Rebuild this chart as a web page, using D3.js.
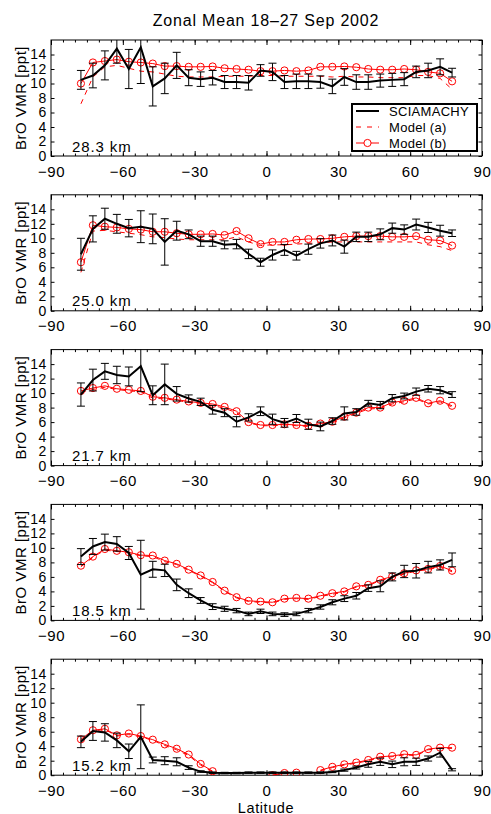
<!DOCTYPE html>
<html><head><meta charset="utf-8">
<script src="https://cdn.jsdelivr.net/npm/d3@7"></script>
<style>
html,body{margin:0;padding:0;background:#fff;}
svg{display:block;font-family:"Liberation Sans",Arial,Helvetica,sans-serif;}
</style></head>
<body><svg id="chart" width="491" height="814"></svg>
<script>
// ---------- DATA ----------
const latitudes = [-77.5,-72.5,-67.5,-62.5,-57.5,-52.5,-47.5,-42.5,-37.5,-32.5,-27.5,-22.5,-17.5,-12.5,-7.5,-2.5,
                   2.5,7.5,12.5,17.5,22.5,27.5,32.5,37.5,42.5,47.5,52.5,57.5,62.5,67.5,72.5,77.5];
const altitudeLabels = ["28.3 km","25.0 km","21.7 km","18.5 km","15.2 km"];
const xTickValues = [-90,-60,-30,0,30,60,90];
const yTickValues = [0,2,4,6,8,10,12,14];
const legendLabels = ["SCIAMACHY","Model (a)","Model (b)"];

// 28.3 km
const sciamachy283 = [10.5,11.1,12.5,14.8,12.0,15.0,9.6,10.7,12.5,10.8,10.6,10.8,10.2,10.2,10.1,11.8,11.6,10.2,10.3,10.3,10.2,9.6,10.9,10.2,10.2,10.4,10.5,10.6,11.6,11.8,12.3,11.5];
const error283     = [1.3,1.7,2.0,2.0,2.7,5.0,2.7,2.1,1.8,1.1,1.0,1.0,0.9,0.9,1.0,0.8,1.2,0.9,1.0,1.0,0.85,1.0,1.15,1.0,1.0,0.9,0.9,0.9,0.8,1.0,1.1,0.6];
const modelA283    = [7.2,10.9,12.3,12.5,12.1,11.7,11.6,11.3,11.0,10.9,10.9,10.9,11.0,11.0,11.0,11.1,11.1,11.0,11.0,11.0,11.0,10.9,11.0,10.9,10.9,10.8,10.8,10.8,11.1,11.1,10.7,9.2];
const modelB283    = [10.0,12.9,13.1,13.3,13.0,12.9,12.75,12.4,12.4,12.3,12.3,12.35,12.1,12.0,11.9,11.7,11.7,11.8,11.7,11.8,12.3,12.3,12.35,12.25,12.0,11.9,11.9,12.0,11.9,11.6,11.4,10.3];
// 25.0 km
const sciamachy250 = [7.8,11.3,12.7,12.0,11.4,11.6,11.3,9.5,11.05,10.55,9.6,9.6,9.1,9.2,7.85,6.7,7.7,8.4,7.6,8.5,9.3,9.7,8.85,10.2,10.2,10.55,11.4,11.2,11.9,11.5,11.05,10.7];
const error250     = [2.2,1.8,1.45,1.3,1.2,2.2,2.05,3.2,1.3,0.6,0.7,0.7,0.55,0.65,0.65,0.55,0.7,0.75,0.6,0.7,0.65,0.75,0.9,0.65,0.65,0.75,0.7,0.65,0.75,0.7,0.75,0.45];
const modelA250    = [5.3,11.0,11.1,10.9,10.7,10.5,10.2,10.1,9.9,9.8,9.8,9.8,9.8,10.2,9.5,9.0,9.1,9.1,9.2,9.3,9.4,9.5,9.5,9.5,9.5,9.5,9.5,9.5,9.5,9.1,8.85,8.3];
const modelB250    = [6.7,11.8,11.6,11.5,11.3,11.2,10.9,10.9,10.7,10.55,10.55,10.6,10.45,11.0,10.0,9.2,9.5,9.5,9.8,9.9,9.9,10.0,10.2,10.3,10.3,10.3,10.2,10.2,10.3,9.8,9.7,9.0];
// 21.7 km
const sciamachy217 = [9.8,11.8,13.0,12.5,12.3,13.7,9.7,11.2,9.9,9.25,8.8,7.7,7.3,6.05,6.65,7.5,6.4,5.9,6.5,5.7,5.4,6.15,7.2,7.4,8.6,8.35,9.3,9.6,10.2,10.6,10.4,9.8];
const error217     = [1.6,1.5,1.1,1.2,1.3,3.5,1.3,2.8,1.0,0.5,0.5,0.6,0.55,0.7,0.5,0.6,0.7,0.6,0.55,0.7,0.6,0.45,0.9,0.45,0.4,0.5,0.5,0.4,0.5,0.45,0.5,0.4];
const modelA217    = [10.1,10.5,10.8,10.5,10.3,10.2,9.3,9.2,9.0,8.7,8.5,8.3,7.9,7.3,5.9,5.5,5.5,5.6,5.5,5.4,5.7,5.9,6.6,7.2,7.8,7.9,8.5,8.8,9.2,8.5,8.8,8.1];
const modelB217    = [10.3,10.7,11.0,10.6,10.45,10.3,9.5,9.35,9.1,8.85,8.65,8.5,8.1,7.5,6.0,5.6,5.6,5.7,5.6,5.5,5.8,6.05,6.75,7.3,8.0,8.0,8.7,8.95,9.35,8.6,8.95,8.25];
// 18.5 km
const sciamachy185 = [8.8,10.2,10.8,10.55,9.3,6.3,7.05,6.9,4.9,3.75,2.75,1.9,1.6,1.35,0.9,1.25,0.9,0.8,0.9,1.35,1.85,2.5,3.0,3.4,4.45,4.7,6.0,6.75,6.85,7.35,7.65,8.35];
const error185     = [1.1,1.1,1.1,1.0,0.9,4.75,1.1,0.85,0.8,0.6,0.4,0.4,0.35,0.3,0.25,0.3,0.25,0.25,0.25,0.3,0.3,0.35,0.4,0.45,0.45,0.75,0.55,0.85,1.0,0.8,0.7,0.95];
const modelA185    = [7.4,8.7,9.7,9.5,9.3,8.9,8.8,8.1,7.7,6.9,6.1,5.2,4.0,3.1,2.6,2.5,2.4,2.9,3.0,2.9,3.3,3.6,3.9,4.6,4.8,5.5,5.9,6.4,6.8,7.0,7.4,6.7];
const modelB185    = [7.55,8.8,9.85,9.6,9.4,9.0,8.95,8.25,7.8,7.0,6.2,5.3,4.1,3.2,2.7,2.6,2.5,3.0,3.1,3.0,3.4,3.75,4.0,4.7,4.9,5.6,6.05,6.5,6.9,7.1,7.5,6.85];
// 15.2 km
const sciamachy152 = [4.6,6.1,5.9,4.8,3.3,5.3,2.1,2.0,1.85,1.05,0.5,0.35,0.3,0.3,0.35,0.35,0.35,0.35,0.35,0.35,0.35,0.45,0.7,1.05,1.5,1.85,1.5,1.85,1.85,2.3,3.1,0.75];
const error152     = [0.8,1.3,1.2,1.0,1.0,4.4,0.4,0.55,0.55,0.25,0.1,0.1,0.1,0.1,0.1,0.1,0.1,0.1,0.1,0.1,0.1,0.1,0.15,0.2,0.4,0.5,0.45,0.55,0.5,0.35,0.6,0.15];
const modelA152    = [4.8,6.1,6.3,5.4,5.6,5.3,4.8,4.1,3.5,2.7,1.4,0.45,null,null,null,null,0.0,0.25,0.3,null,0.6,1.05,1.4,1.65,2.0,2.45,2.55,2.8,2.7,3.5,3.7,3.7];
const modelB152    = [4.95,6.2,6.4,5.5,5.75,5.4,4.9,4.25,3.65,2.85,1.55,0.55,null,null,null,null,0.0,0.3,0.35,null,0.7,1.15,1.5,1.75,2.1,2.55,2.65,2.9,2.8,3.6,3.8,3.8];

const panelSeries = [
  {sci: sciamachy283, err: error283, a: modelA283, b: modelB283},
  {sci: sciamachy250, err: error250, a: modelA250, b: modelB250},
  {sci: sciamachy217, err: error217, a: modelA217, b: modelB217},
  {sci: sciamachy185, err: error185, a: modelA185, b: modelB185},
  {sci: sciamachy152, err: error152, a: modelA152, b: modelB152}
];

// ---------- LAYOUT ----------
const svg = d3.select("#chart");
const X0 = 51, X1 = 482, PH = 116, TOP0 = 40, STEP = 154.8;
const RED = "#ff0000";
const fmt = d => d < 0 ? "\u2212" + Math.abs(d) : String(d);
const x = d3.scaleLinear().domain([-90, 90]).range([X0, X1]);
const xMinor = d3.range(-90, 91, 5);

svg.append("text").attr("x", 266).attr("y", 26).attr("text-anchor", "middle")
  .attr("font-size", 16).attr("letter-spacing", 0.8).text("Zonal Mean 18\u201327 Sep 2002");

panelSeries.forEach((p, i) => {
  const top = TOP0 + i * STEP, bot = top + PH;
  const y = d3.scaleLinear().domain([0, 16]).range([bot, top]);
  const g = svg.append("g");
  const cid = "clip" + i;
  svg.append("clipPath").attr("id", cid).append("rect")
     .attr("x", X0).attr("y", top).attr("width", X1 - X0).attr("height", PH);

  // axes (ticks inward)
  g.append("g").attr("class", "xax").attr("transform", `translate(0,${bot})`)
    .call(d3.axisBottom(x).tickValues(xTickValues).tickSize(-5).tickPadding(10).tickFormat(fmt));
  g.append("g").attr("transform", `translate(0,${bot})`)
    .call(d3.axisBottom(x).tickValues(xMinor).tickSize(-2.5).tickFormat(""));
  g.append("g").attr("transform", `translate(0,${top})`)
    .call(d3.axisTop(x).tickValues(xTickValues).tickSize(-5).tickFormat(""));
  g.append("g").attr("transform", `translate(0,${top})`)
    .call(d3.axisTop(x).tickValues(xMinor).tickSize(-2.5).tickFormat(""));
  g.append("g").attr("class", "yax").attr("transform", `translate(${X0},0)`)
    .call(d3.axisLeft(y).tickValues(yTickValues).tickSize(-3.5).tickPadding(4).tickFormat(fmt));
  g.append("g").attr("transform", `translate(${X1},0)`)
    .call(d3.axisRight(y).tickValues(yTickValues.concat([16])).tickSize(-3.5).tickFormat(""));
  g.selectAll(".domain").remove();
  g.selectAll(".tick line").attr("stroke", "#000").attr("stroke-width", 1);
  g.selectAll(".tick text").attr("fill", "#000")
    .attr("font-family", '"Liberation Sans",Arial,sans-serif').attr("letter-spacing", 0.6);
  g.selectAll(".xax .tick text").attr("font-size", 15);
  g.selectAll(".yax .tick text").attr("font-size", 14);

  g.append("rect").attr("x", X0).attr("y", top).attr("width", X1 - X0).attr("height", PH)
    .attr("fill", "none").attr("stroke", "#000").attr("stroke-width", 1);

  // y label
  g.append("text").attr("transform", `translate(20,${top + PH / 2}) rotate(-90)`)
    .attr("text-anchor", "middle").attr("dominant-baseline", "central")
    .attr("font-size", 15).attr("letter-spacing", 0.5).text("BrO VMR [ppt]");

  // altitude label
  g.append("text").attr("x", 72).attr("y", bot - 4.5).attr("font-size", 15)
    .attr("letter-spacing", 0.9).text(altitudeLabels[i]);

  const plot = g.append("g").attr("clip-path", `url(#${cid})`);
  const line = arr => d3.line().defined((d, k) => arr[k] !== null)
      .x((d, k) => x(latitudes[k])).y((d, k) => y(arr[k]))(arr);

  // model (a) dashed
  plot.append("path").attr("d", line(p.a)).attr("fill", "none").attr("stroke", RED)
    .attr("stroke-width", 1).attr("stroke-dasharray", "5,5");
  // model (b) line + circles
  plot.append("path").attr("d", line(p.b)).attr("fill", "none").attr("stroke", RED).attr("stroke-width", 1);
  plot.selectAll("circle.mb").data(latitudes.map((lat, k) => ({lat, v: p.b[k]})).filter(d => d.v !== null))
    .join("circle").attr("class", "mb").attr("cx", d => x(d.lat)).attr("cy", d => y(d.v))
    .attr("r", 3.6).attr("fill", "none").attr("stroke", RED).attr("stroke-width", 1);

  // error bars
  const eb = plot.selectAll("g.eb").data(latitudes.map((lat, k) => ({lat, v: p.sci[k], e: p.err[k]})))
    .join("g").attr("class", "eb");
  eb.append("line").attr("x1", d => x(d.lat)).attr("x2", d => x(d.lat))
    .attr("y1", d => y(d.v - d.e)).attr("y2", d => y(d.v + d.e)).attr("stroke", "#000").attr("stroke-width", 1);
  eb.append("line").attr("x1", d => x(d.lat) - 4).attr("x2", d => x(d.lat) + 4)
    .attr("y1", d => y(d.v - d.e)).attr("y2", d => y(d.v - d.e)).attr("stroke", "#000").attr("stroke-width", 1);
  eb.append("line").attr("x1", d => x(d.lat) - 4).attr("x2", d => x(d.lat) + 4)
    .attr("y1", d => y(d.v + d.e)).attr("y2", d => y(d.v + d.e)).attr("stroke", "#000").attr("stroke-width", 1);

  // SCIAMACHY line
  plot.append("path").attr("d", line(p.sci)).attr("fill", "none").attr("stroke", "#000")
    .attr("stroke-width", 2).attr("stroke-linejoin", "miter");

  // legend in first panel
  if (i === 0) {
    const lg = g.append("g");
    lg.append("rect").attr("x", 352).attr("y", 104).attr("width", 125).attr("height", 47)
      .attr("fill", "#fff").attr("stroke", "#000").attr("stroke-width", 2);
    const rows = [111, 127, 143];
    legendLabels.forEach((lab, k) => {
      const ry = rows[k];
      if (k === 0) lg.append("line").attr("x1", 356).attr("x2", 379).attr("y1", ry).attr("y2", ry)
        .attr("stroke", "#000").attr("stroke-width", 2);
      if (k === 1) lg.append("line").attr("x1", 356).attr("x2", 379).attr("y1", ry).attr("y2", ry)
        .attr("stroke", RED).attr("stroke-width", 1).attr("stroke-dasharray", "5,6");
      if (k === 2) {
        lg.append("line").attr("x1", 356).attr("x2", 379).attr("y1", ry).attr("y2", ry)
          .attr("stroke", RED).attr("stroke-width", 1);
        lg.append("circle").attr("cx", 367.5).attr("cy", ry).attr("r", 3.6)
          .attr("fill", "#fff").attr("stroke", RED).attr("stroke-width", 1);
      }
      lg.append("text").attr("x", 389).attr("y", ry).attr("dominant-baseline", "central")
        .attr("font-size", 13).attr("letter-spacing", 0.3).text(lab);
    });
  }
});

svg.append("text").attr("x", 266).attr("y", 812.5).attr("text-anchor", "middle")
  .attr("font-size", 14.5).attr("letter-spacing", 0.6).text("Latitude");
</script>
</body></html>
